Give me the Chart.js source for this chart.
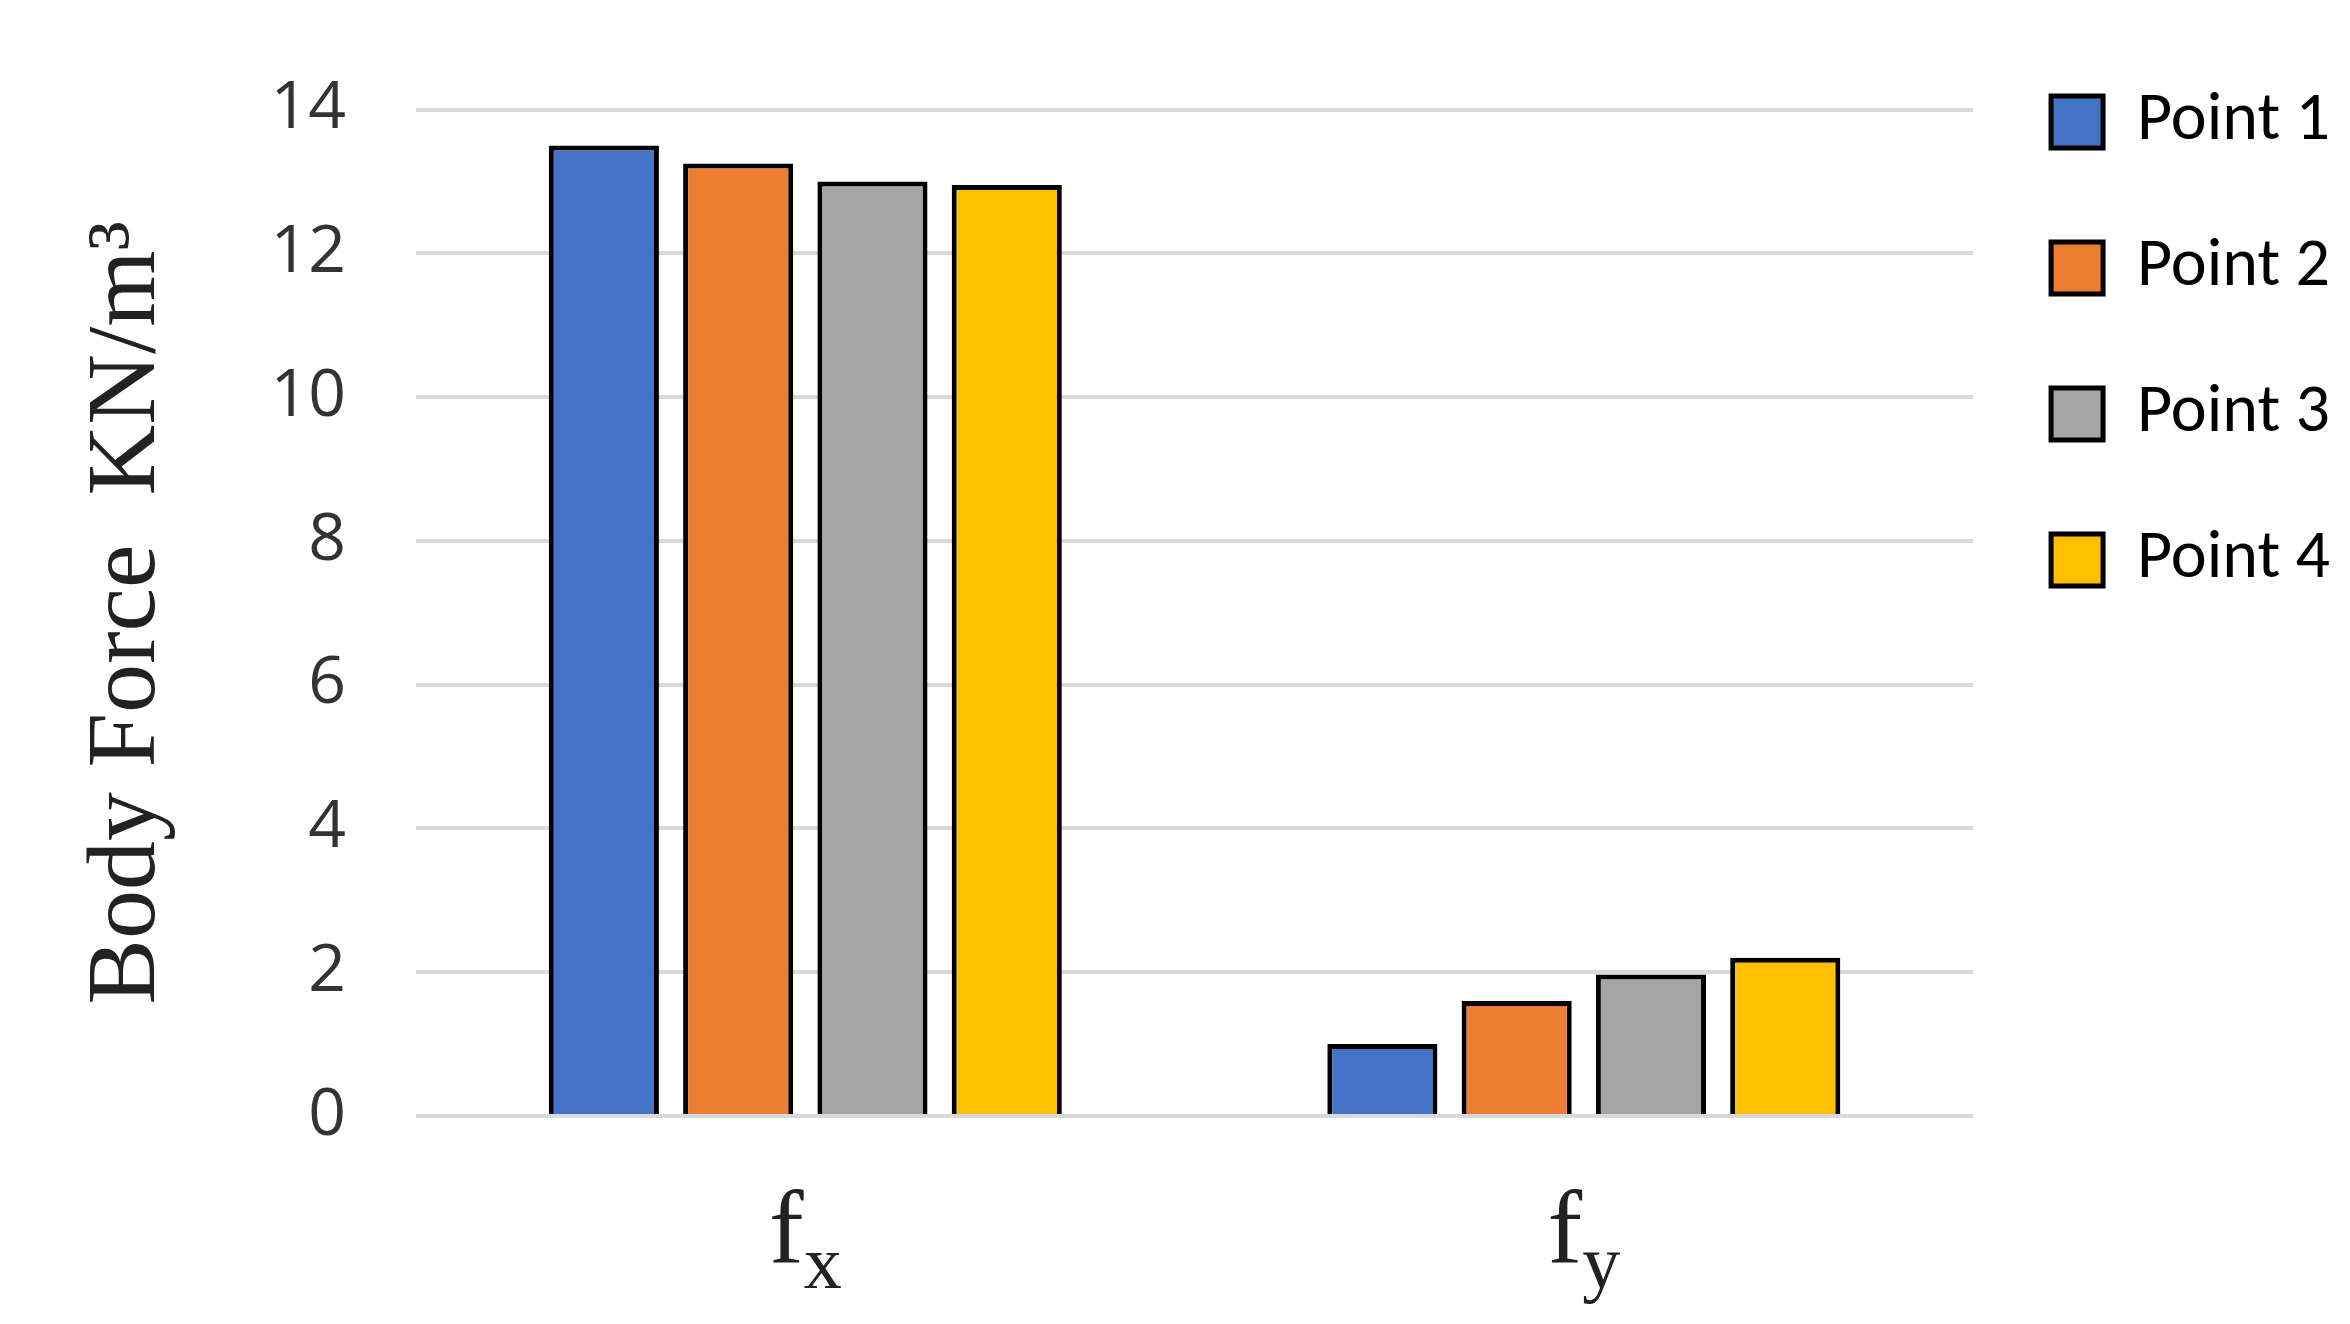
<!DOCTYPE html>
<html>
<head>
<meta charset="utf-8">
<script src="https://cdn.jsdelivr.net/npm/chart.js@4"></script>
<style>
  html, body { margin: 0; padding: 0; background: #fff; }
  #wrap { width: 2350px; height: 1324px; }
</style>
</head>
<body>
<div id="wrap"><canvas id="myChart"></canvas></div>
<script>
var categories = ['x', 'y']; // subscripts of f
var seriesNames = ['Point 1', 'Point 2', 'Point 3', 'Point 4'];
var point1 = [13.5, 1.0];
var point2 = [13.25, 1.6];
var point3 = [13.0, 1.97];
var point4 = [12.95, 2.2];
var yTicks = [0, 2, 4, 6, 8, 10, 12, 14];

var colors = ['#4472c4', '#ed7d31', '#a5a5a5', '#ffc000'];
var values = [point1, point2, point3, point4];

var datasets = [];
for (i = 0; i < seriesNames.length; i++) {
    datasets.push({
        label: seriesNames[i],
        data: values[i],
        backgroundColor: colors[i],
        borderColor: '#000',
        borderWidth: 5,
        categoryPercentage: 0.69,
        barPercentage: 0.82
    });
}

// draws "f" with a subscript under each group
var subLabels = {
    id: 'subLabels',
    afterDraw: function (chart) {
        var ctx = chart.ctx;
        var x = chart.scales.x;
        ctx.save();
        ctx.fillStyle = '#222';
        ctx.textBaseline = 'alphabetic';
        for (var k = 0; k < categories.length; k++) {
            var cx = x.getPixelForValue(k);
            ctx.font = '104px "Liberation Serif", serif';
            var fw = ctx.measureText('f').width;
            ctx.font = '76px "Liberation Serif", serif';
            var sw = ctx.measureText(categories[k]).width;
            var left = cx - (fw + sw) / 2;
            ctx.font = '104px "Liberation Serif", serif';
            ctx.fillText('f', left, 1262);
            ctx.font = '76px "Liberation Serif", serif';
            ctx.fillText(categories[k], left + fw, 1288);
        }
        ctx.restore();
    }
};

const config = {
    type: 'bar',
    data: { labels: ['', ''], datasets: datasets },
    options: {
        responsive: true,
        maintainAspectRatio: false,
        animation: false,
        layout: { padding: { top: 10, bottom: 200, left: 55, right: 10 } },
        plugins: {
            legend: {
                position: 'right',
                align: 'start',
                labels: {
                    color: '#222',
                    font: { family: 'Calibri, Carlito, "Open Sans", sans-serif', size: 68 },
                    boxWidth: 52,
                    boxHeight: 52,
                    padding: 78,
                    generateLabels: function (chart) {
                        return chart.data.datasets.map(function (d, idx) {
                            return { text: d.label, fillStyle: d.backgroundColor, strokeStyle: '#000', lineWidth: 5, datasetIndex: idx };
                        });
                    }
                }
            },
            tooltip: { enabled: false }
        },
        scales: {
            x: {
                grid: { display: false },
                border: { display: false },
                ticks: { display: false }
            },
            y: {
                min: 0, max: 14,
                afterBuildTicks: function (axis) { axis.ticks = yTicks.map(function (v) { return { value: v }; }); },
                grid: { color: '#d9d9d9', lineWidth: 4, drawTicks: false },
                border: { display: false },
                ticks: { color: '#333', font: { family: '"Open Sans", sans-serif', size: 66 }, padding: 70 },
                title: {
                    display: true,
                    text: 'Body Force  KN/m³',
                    color: '#222',
                    font: { family: '"Liberation Serif", serif', size: 98 },
                    padding: 14
                }
            }
        }
    },
    plugins: [subLabels]
};

new Chart(document.getElementById('myChart'), config);
</script>
</body>
</html>
